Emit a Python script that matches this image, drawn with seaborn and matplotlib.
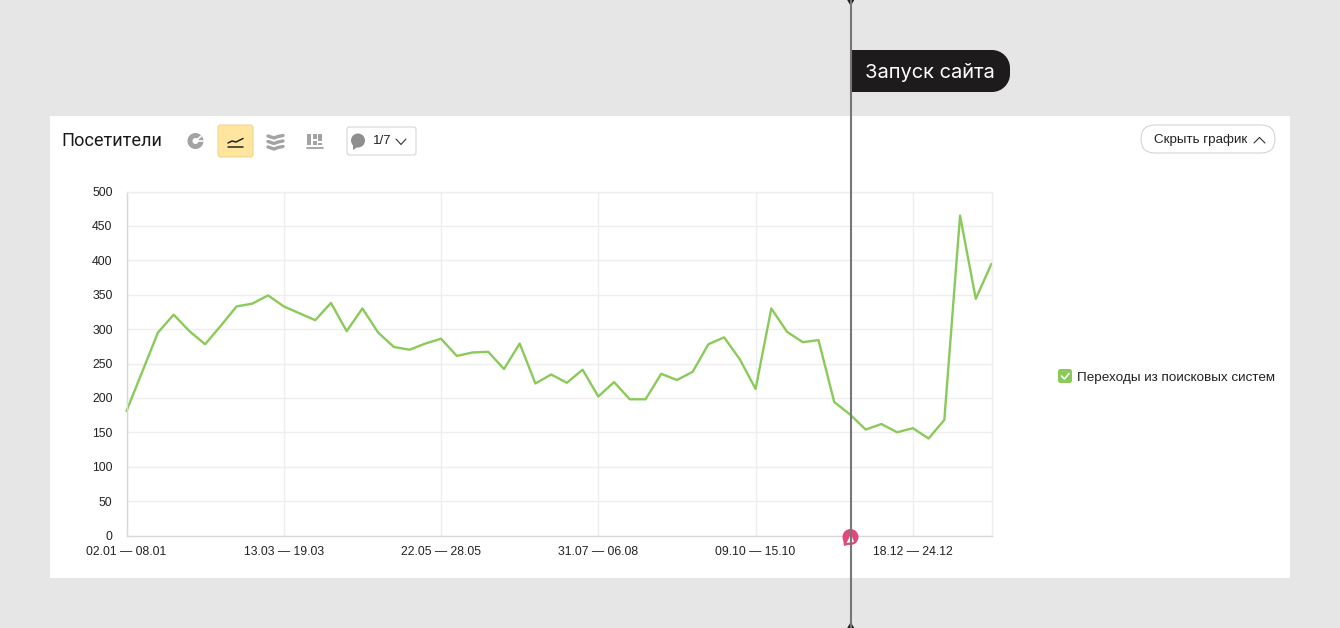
import matplotlib
matplotlib.use("Agg")
import numpy as np
import pandas as pd
import seaborn as sns
import matplotlib.pyplot as plt
from matplotlib.patches import FancyBboxPatch, Rectangle, Circle, Wedge, Polygon, PathPatch
from matplotlib.path import Path

# weekly visitors from search engines
visitors = [181, 238, 295, 321, 297, 278, 305, 333, 337, 349,
            333, 323, 313, 338, 297, 330, 295, 274, 270, 279,
            286, 261, 266, 267, 242, 279, 221, 234, 222, 241,
            202, 223, 198, 198, 235, 226, 238, 278, 288, 256,
            213, 330, 296, 281, 284, 194, 176, 154, 162, 150,
            156, 141, 168, 465, 344, 395]
week_ticks = [0, 10, 20, 30, 40, 50]
week_labels = ["02.01 — 08.01", "13.03 — 19.03", "22.05 — 28.05",
               "31.07 — 06.08", "09.10 — 15.10", "18.12 — 24.12"]
y_ticks = [0, 50, 100, 150, 200, 250, 300, 350, 400, 450, 500]
series_name = "Переходы из поисковых систем"
launch_week = 46.05

W, H = 1340, 628
GREEN = "#8aca5a"
GRID = "#eeeeee"
ICON = "#a3a3a3"

sns.set_theme(style="white")
plt.rcParams["font.family"] = ["Liberation Sans", "DejaVu Sans"]

fig = plt.figure(figsize=(W / 100, H / 100), dpi=100, facecolor="#e6e6e6")

# background panel, pixel coordinates
bg = fig.add_axes([0, 0, 1, 1], zorder=0)
bg.set_xlim(0, W)
bg.set_ylim(H, 0)
bg.axis("off")
bg.add_patch(Rectangle((50, 116), 1240, 462, fc="white", ec="none"))

# the chart itself
left, right, top, bottom = 126.5, 991.5, 191.5, 535.5
ax = fig.add_axes([left / W, 1 - bottom / H, (right - left) / W, (bottom - top) / H], zorder=1)
ax.patch.set_alpha(0)
df = pd.DataFrame({"week": range(len(visitors)), "visitors": visitors})
sns.lineplot(data=df, x="week", y="visitors", color=GREEN, linewidth=1.7, ax=ax, clip_on=False)
ax.set_xlim(0, len(visitors) - 1)
ax.set_ylim(0, 500)
ax.set_xticks(week_ticks)
ax.set_xticklabels(week_labels)
ax.set_yticks(y_ticks)
ax.set_xlabel("")
ax.set_ylabel("")
ax.grid(True, color=GRID, linewidth=1)
ax.set_axisbelow(True)
ax.tick_params(axis="x", length=0, pad=7.5, labelsize=8.8, colors="#222222")
ax.tick_params(axis="y", length=0, pad=10, labelsize=8.8, colors="#222222")
for side in ax.spines:
    ax.spines[side].set_color(GRID)
    ax.spines[side].set_linewidth(1)
ax.spines["left"].set_color("#d8d8d8")
ax.spines["bottom"].set_color("#d8d8d8")

# chrome on top, pixel coordinates again
ov = fig.add_axes([0, 0, 1, 1], zorder=2)
ov.set_xlim(0, W)
ov.set_ylim(H, 0)
ov.axis("off")
ov.patch.set_alpha(0)


def rbox(x0, y0, x1, y1, r, **kw):
    ov.add_patch(FancyBboxPatch((x0 + r, y0 + r), x1 - x0 - 2 * r, y1 - y0 - 2 * r,
                                boxstyle=f"round,pad={r},rounding_size={r}", **kw))


ov.text(61, 141.5, "Посетители", fontsize=13.1, family=["Roboto", "DejaVu Sans"],
        color="#1a1a1a", va="center", ha="left")

# donut icon
ov.add_patch(Wedge((195.5, 141), 8, 0, 360, width=5, fc=ICON, ec="none"))
ov.plot([195.5, 203], [141, 134.5], color="white", lw=1.2)
ov.plot([195.5, 204], [141, 141], color="white", lw=1.2)

# active line-chart button
rbox(218, 125, 253, 157, 2.5, fc="#ffe59e", ec="#ecd28c", lw=0.7)
ov.plot([228, 232, 236, 243], [143, 141, 142, 138.5], color="#222222", lw=1.1)
ov.plot([228, 243], [147, 147], color="#222222", lw=1.1)

# stacked area icon
for y0 in (135, 140.5, 146):
    ov.plot([268, 274, 278, 283], [y0 + 1, y0 + 3, y0 + 1.5, y0 + 0.5], color=ICON, lw=2.4)

# stacked bars icon
ov.add_patch(Rectangle((307, 134), 4, 11, fc=ICON, ec="none"))
ov.add_patch(Rectangle((312.5, 134), 4, 5, fc=ICON, ec="none"))
ov.add_patch(Rectangle((312.5, 141), 4, 4, fc=ICON, ec="none"))
ov.add_patch(Rectangle((318, 134), 4, 7, fc=ICON, ec="none"))
ov.add_patch(Rectangle((318, 142.5), 4, 2.5, fc=ICON, ec="none"))
ov.plot([307, 322.5], [147.8, 147.8], color=ICON, lw=1.3)

# comments dropdown
rbox(347, 127, 416, 155, 2.5, fc="white", ec="#d6d6d6", lw=0.8)
ov.add_patch(Circle((358, 140.5), 7, fc="#8e8e8e", ec="none"))
ov.add_patch(Polygon([(353, 145), (353, 150), (359, 146)], fc="#8e8e8e", ec="none"))
ov.text(372.5, 141.5, "1/7", fontsize=9.5, color="#222222", va="center", ha="left")
ov.plot([396, 401, 406], [139, 144.5, 139], color="#333333", lw=0.8)

# hide chart button
rbox(1141, 125, 1275, 153, 14, fc="white", ec="#cfcfcf", lw=0.7)
ov.text(1154, 140, "Скрыть график", fontsize=9.65, color="#222222", va="center", ha="left")
ov.plot([1254, 1259.5, 1265], [143, 137.5, 143], color="#333333", lw=0.8)

# legend
rbox(1058, 369, 1072, 383, 2.5, fc=GREEN, ec="none")
ov.plot([1061.5, 1064.5, 1069], [376, 379, 373.5], color="white", lw=1.2)
ov.text(1077, 378, series_name, fontsize=9.7, color="#222222", va="center", ha="left")

# launch marker: data position of the launch week converted to overlay pixels
launch_x = ax.transData.transform((launch_week, 0))[0]
launch_px = launch_x / fig.dpi * 100

# pink bubble
ov.add_patch(Circle((850.5, 537), 8, fc="#e2487c", ec="none"))
ov.add_patch(Polygon([(843, 538), (844, 546), (851, 544)], fc="#e2487c", ec="none"))
ov.add_patch(Polygon([(846.5, 543), (851, 534), (854, 542)], fc="white", ec="none"))

ov.plot([launch_px, launch_px], [0, H], color="#767676", lw=1.5, solid_capstyle="butt")
ov.add_patch(Polygon([(launch_px - 3.5, 0), (launch_px + 3.5, 0), (launch_px, 6)], fc="#1d1b1b", ec="none"))
ov.add_patch(Polygon([(launch_px - 3.5, H), (launch_px + 3.5, H), (launch_px, H - 6)], fc="#1d1b1b", ec="none"))

# launch tag, flat on the left and round on the right
x0, x1, y0, y1, r = launch_px, 1010, 50, 92, 18
k = 0.55 * r
verts = [(x0, y0), (x1 - r, y0), (x1 - r + k, y0), (x1, y0 + r - k), (x1, y0 + r),
         (x1, y1 - r), (x1, y1 - r + k), (x1 - r + k, y1), (x1 - r, y1), (x0, y1), (x0, y0)]
codes = [Path.MOVETO, Path.LINETO, Path.CURVE4, Path.CURVE4, Path.CURVE4,
         Path.LINETO, Path.CURVE4, Path.CURVE4, Path.CURVE4, Path.LINETO, Path.CLOSEPOLY]
ov.add_patch(PathPatch(Path(verts, codes), fc="#1d1b1b", ec="none"))
ov.text(865, 72.5, "Запуск сайта", fontsize=14.45, family=["Inter", "DejaVu Sans"],
        color="white", va="center", ha="left")

fig.savefig("out.png", dpi=100, facecolor=fig.get_facecolor())
